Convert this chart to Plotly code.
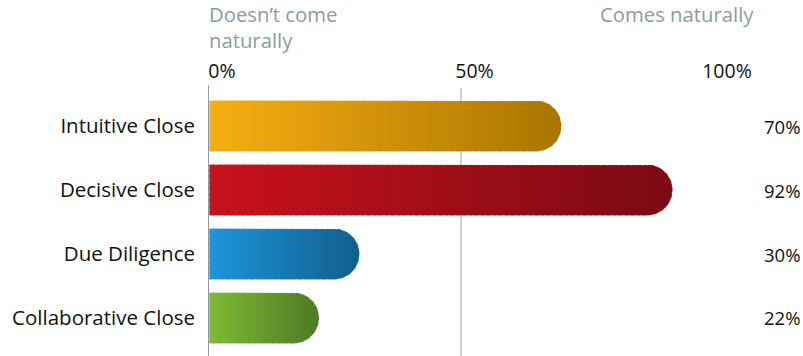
import numpy as np
import plotly.graph_objects as go

categories = ["Intuitive Close", "Decisive Close", "Due Diligence", "Collaborative Close"]
values = [70, 92, 30, 22]
value_labels = ["70%", "92%", "30%", "22%"]
tick_vals = [0, 50, 100]
tick_text = ["0%", "50%", "100%"]
left_colors = ["#F7AE12", "#C8111C", "#1C96DB", "#7DBB36"]
right_colors = ["#A97500", "#7A0A12", "#115E8C", "#4D7A24"]

FONT = "Open Sans"
W, H = 803, 356
ML, MR, MT, MB = 208, 90, 88, 0
plot_w = W - ML - MR
plot_h = H - MT - MB
x_range = [0, 100]
y_pad = 0.594
y_range = [len(categories) - 1 + y_pad, -y_pad]
px_x = plot_w / (x_range[1] - x_range[0])
px_y = plot_h / (y_range[0] - y_range[1])
bar_px = 51
h = (bar_px / 2) / px_y
rx = (bar_px / 2) / px_x

fig = go.Figure()
for i, (v, c1, c2) in enumerate(zip(values, left_colors, right_colors)):
    t = np.linspace(-np.pi / 2, np.pi / 2, 60)
    xs = [0.25] + list(v - rx + rx * np.cos(t)) + [0.25, 0.25]
    ys = [i - h] + list(i + h * np.sin(t)) + [i + h, i - h]
    fig.add_trace(go.Scatter(
        x=xs, y=ys, mode="lines", fill="toself",
        line=dict(width=0.8, color="rgba(255,255,255,0.35)", dash="dot"),
        fillgradient=dict(type="horizontal", colorscale=[[0, c1], [1, c2]]),
        hoverinfo="skip", showlegend=False,
    ))

for i, lab in enumerate(value_labels):
    fig.add_annotation(x=1, xref="paper", y=i, yref="y", text=lab,
                       xanchor="right", xshift=89, showarrow=False,
                       font=dict(family=FONT, size=18.5, color="#111111"))

fig.add_annotation(x=0, xref="paper", y=1, yref="paper", yshift=MT + 2,
                   text="Doesn’t come<br>naturally", align="left", xshift=-1,
                   xanchor="left", yanchor="top", showarrow=False,
                   font=dict(family=FONT, size=20.3, color="#8A9DA3"))
fig.add_annotation(x=1, xref="paper", y=1, yref="paper", yshift=MT + 2,
                   text="Comes naturally", align="right", xshift=43,
                   xanchor="right", yanchor="top", showarrow=False,
                   font=dict(family=FONT, size=20.3, color="#8A9DA3"))

fig.update_layout(
    width=W, height=H,
    margin=dict(l=ML, r=MR, t=MT, b=MB, pad=0),
    plot_bgcolor="white", paper_bgcolor="white",
    xaxis=dict(range=x_range, side="top", tickvals=tick_vals, ticktext=tick_text,
               showgrid=True, gridcolor="#D0D0D0", gridwidth=1.5,
               zeroline=False, showline=False, ticks="",
               ticklabelshift=14, ticklabelstandoff=5,
               tickfont=dict(family=FONT, size=19.5, color="#111111")),
    yaxis=dict(range=y_range, tickvals=list(range(len(categories))), ticktext=categories,
               showgrid=False, zeroline=False, showline=False, ticks="",
               ticklabelstandoff=12,
               tickfont=dict(family=FONT, size=20.5, color="#111111")),
    shapes=[dict(type="line", xref="x", yref="paper", x0=0, x1=0, y0=0, y1=1.01,
                 line=dict(color="#8E9AA2", width=2))],
)

fig.write_html("out.html")
